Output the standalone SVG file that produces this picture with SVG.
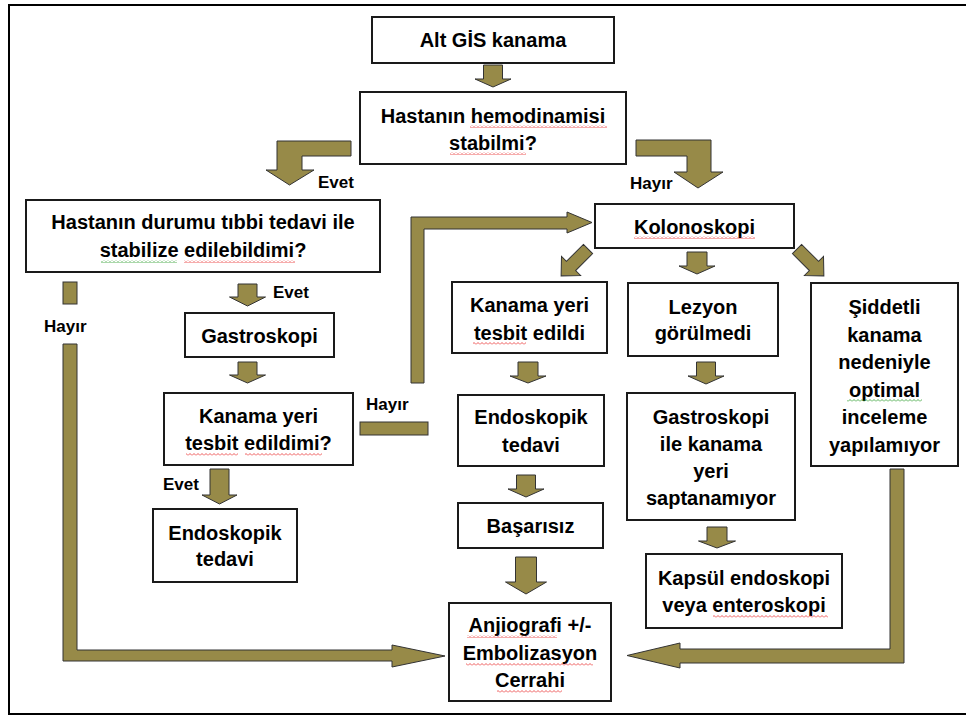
<svg xmlns="http://www.w3.org/2000/svg" width="966" height="715" viewBox="0 0 966 715">
<defs>
<style>
.box{fill:#fff;stroke:#1a1a1a;stroke-width:2}
.t{font-family:"Liberation Sans",Arial,sans-serif;font-weight:bold;font-size:20px;fill:#000;text-anchor:middle}
.lbl{font-family:"Liberation Sans",Arial,sans-serif;font-weight:bold;font-size:17px;fill:#000}
.arr{fill:#978a48;stroke:#333;stroke-width:1}
.sqr{fill:url(#sqR)}
.sqg{fill:url(#sqG)}
</style>
<pattern id="sqR" width="4" height="3" patternUnits="userSpaceOnUse"><path d="M0,2.5 L2,0.5 L4,2.5" fill="none" stroke="#e83030" stroke-width="0.8"/></pattern>
<pattern id="sqG" width="4" height="3" patternUnits="userSpaceOnUse"><path d="M0,2.5 L2,0.5 L4,2.5" fill="none" stroke="#2a9a2a" stroke-width="0.8"/></pattern>
</defs>
<rect x="0" y="0" width="966" height="715" fill="#fff"/>
<rect x="9" y="5" width="970" height="709" fill="none" stroke="#000" stroke-width="2"/>

<g id="connectors">
<polygon class="arr" points="483.5,65 502.5,65 502.5,79 511,79 493,87 475,79 483.5,79"/>
<polygon class="arr" points="351,141 351,156 302,156 302,170 314,170 289.5,185 266,170 277,170 277,141"/>
<polygon class="arr" points="636,140 711,140 711,172 723,172 698,188 674,172 687,172 687,156 636,156"/>
<polygon class="arr" points="238,284 257,284 257,297 265.5,297 247.5,306 229.5,297 238,297"/>
<polygon class="arr" points="238,362 257,362 257,375 265.5,375 247.5,383 229.5,375 238,375"/>
<polygon class="arr" points="210,469 229,469 229,495 237,495 219.5,504 202,495 210,495"/>
<rect class="arr" x="63" y="282" width="14" height="22"/>
<polygon class="arr" points="63,344 77,344 77,650 392,650 392,645 445,656 392,667 392,661 63,661"/>
<rect class="arr" x="360" y="422" width="68" height="13"/>
<polygon class="arr" points="411,383 411,217 567,217 567,212 592,222.5 567,233 567,229 424,229 424,383"/>
<polygon class="arr" points="-6.5,0 6.5,0 6.5,24 13.5,24 0,38 -13.5,24 -6.5,24" transform="translate(588,249) rotate(45)"/>
<polygon class="arr" points="-6.5,0 6.5,0 6.5,24 13.5,24 0,38 -13.5,24 -6.5,24" transform="translate(797,249) rotate(-45)"/>
<polygon class="arr" points="687,252 707,252 707,266 715,266 697,274 679,266 687,266"/>
<polygon class="arr" points="518,362 538,362 538,376 546,376 528,383 510,376 518,376"/>
<polygon class="arr" points="696.5,362 715.5,362 715.5,376 724,376 706,384 688,376 696.5,376"/>
<polygon class="arr" points="516.5,475 535.5,475 535.5,489 544,489 526,497 508,489 516.5,489"/>
<polygon class="arr" points="515.5,557 536.5,557 536.5,582 546.5,582 526,594 505.5,582 515.5,582"/>
<polygon class="arr" points="707,527 727,527 727,541 735.5,541 717,548 698.5,541 707,541"/>
<polygon class="arr" points="890,469 904,469 904,663 680,663 680,668 627,655.5 680,643 680,649 890,649"/>
<text class="lbl" x="318" y="188">Evet</text>
<text class="lbl" x="630" y="189">Hayır</text>
<text class="lbl" x="273" y="298">Evet</text>
<text class="lbl" x="44" y="332">Hayır</text>
<text class="lbl" x="366" y="410">Hayır</text>
<text class="lbl" x="163" y="490">Evet</text>
</g>

<g id="n1"><rect class="box" x="372" y="17" width="242" height="46"/><text class="t" x="493" y="47">Alt GİS kanama</text></g>
<g id="n2"><rect class="box" x="360" y="92" width="266" height="72"/><text class="t" x="493" y="123">Hastanın hemodinamisi</text><text class="t" x="493" y="150">stabilmi?</text>
<rect class="sqr" x="470" y="125" width="137" height="3"/><rect class="sqr" x="450" y="152" width="76" height="3"/></g>
<g id="n3"><rect class="box" x="26" y="200" width="354" height="72"/><text class="t" x="203" y="229">Hastanın durumu tıbbi tedavi ile</text><text class="t" x="203" y="257">stabilize edilebildimi?</text>
<rect class="sqg" x="101" y="260" width="76" height="3"/><rect class="sqr" x="184" y="260" width="111" height="3"/></g>
<g id="n4"><rect class="box" x="185" y="313" width="149" height="44"/><text class="t" x="259.5" y="343">Gastroskopi</text></g>
<g id="n5"><rect class="box" x="164" y="393" width="189" height="72"/><text class="t" x="258.5" y="423">Kanama yeri</text><text class="t" x="258.5" y="450">tesbit edildimi?</text>
<rect class="sqr" x="186" y="453" width="52" height="3"/><rect class="sqr" x="245" y="453" width="77" height="3"/></g>
<g id="n6"><rect class="box" x="153" y="509" width="144" height="73"/><text class="t" x="225" y="540">Endoskopik</text><text class="t" x="225" y="566">tedavi</text></g>
<g id="n7"><rect class="box" x="595" y="204" width="199" height="44"/><text class="t" x="694.5" y="234">Kolonoskopi</text>
<rect class="sqr" x="634" y="236" width="121" height="3"/></g>
<g id="n8"><rect class="box" x="452" y="282" width="155" height="71"/><text class="t" x="529.5" y="312">Kanama yeri</text><text class="t" x="529.5" y="340">tesbit edildi</text>
<rect class="sqr" x="473" y="342" width="53" height="3"/></g>
<g id="n9"><rect class="box" x="628" y="283" width="150" height="73"/><text class="t" x="703" y="314">Lezyon</text><text class="t" x="703" y="340">görülmedi</text></g>
<g id="n10"><rect class="box" x="811" y="283" width="147" height="183"/>
<text class="t" x="884.5" y="314">Şiddetli</text><text class="t" x="884.5" y="342">kanama</text><text class="t" x="884.5" y="369">nedeniyle</text><text class="t" x="884.5" y="397">optimal</text><text class="t" x="884.5" y="424">inceleme</text><text class="t" x="884.5" y="452">yapılamıyor</text>
<rect class="sqg" x="847" y="399" width="75" height="3"/></g>
<g id="n11"><rect class="box" x="458" y="395" width="146" height="71"/><text class="t" x="531" y="424">Endoskopik</text><text class="t" x="531" y="452">tedavi</text></g>
<g id="n12"><rect class="box" x="627" y="393" width="168" height="127"/><text class="t" x="711" y="424">Gastroskopi</text><text class="t" x="711" y="451">ile kanama</text><text class="t" x="711" y="478">yeri</text><text class="t" x="711" y="505">saptanamıyor</text></g>
<g id="n13"><rect class="box" x="458" y="503" width="145" height="45"/><text class="t" x="530.5" y="533">Başarısız</text></g>
<g id="n14"><rect class="box" x="646" y="554" width="196" height="74"/><text class="t" x="744" y="585">Kapsül endoskopi</text><text class="t" x="744" y="612">veya enteroskopi</text>
<rect class="sqr" x="713" y="615" width="115" height="3"/></g>
<g id="n15"><rect class="box" x="449" y="603" width="162" height="98"/><text class="t" x="530" y="632">Anjiografi +/-</text><text class="t" x="530" y="660">Embolizasyon</text><text class="t" x="530" y="687">Cerrahi</text>
<rect class="sqr" x="467" y="635" width="90" height="3"/><rect class="sqr" x="466" y="663" width="127" height="3"/><rect class="sqr" x="497" y="690" width="65" height="3"/></g>
</svg>
